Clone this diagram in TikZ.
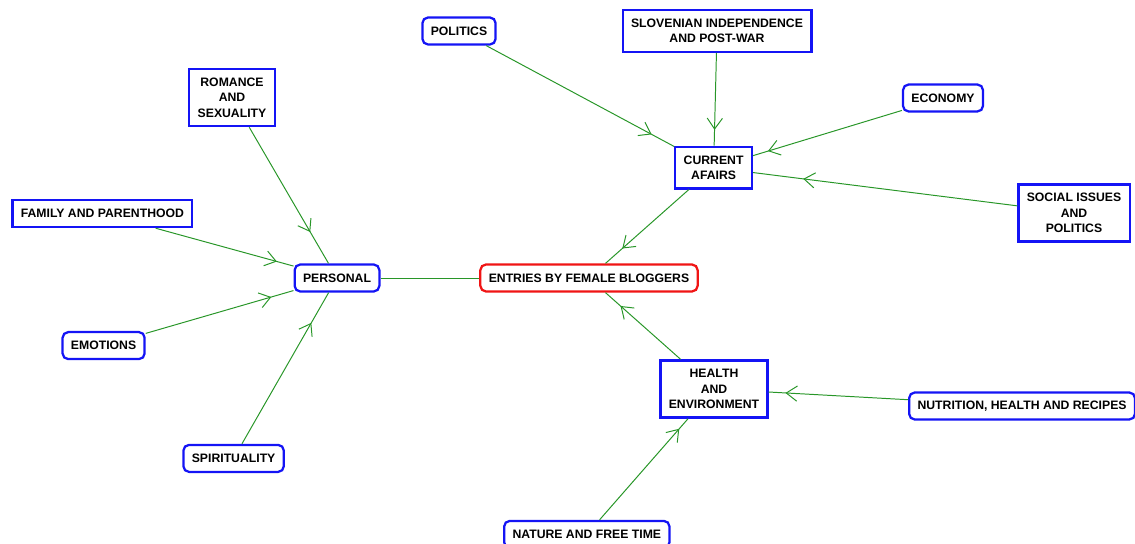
\documentclass[tikz,border=0pt]{standalone}
\usepackage{fontspec}
\setmainfont{Liberation Sans}
\usepackage{xcolor}
\usepackage{tikz}
\usetikzlibrary{arrows.meta, decorations.markings}

\definecolor{edgegreen}{RGB}{40,150,40}
\definecolor{boxblue}{RGB}{20,20,245}
\definecolor{boxred}{RGB}{240,20,20}

\begin{document}
\begin{tikzpicture}[
  font=\fontsize{8.7}{11}\selectfont\bfseries,
  topic/.style={draw=boxblue, line width=1.6pt, fill=white, align=center,
                inner xsep=0.21cm, inner ysep=0.22cm},
  leaf/.style={topic, rounded corners=4pt, minimum height=0.675cm, inner ysep=0pt},
  root/.style={leaf, draw=boxred},
  flow/.style={draw=edgegreen, line width=0.7pt, postaction={decorate},
               decoration={markings, mark=at position #1 with
                 {\arrow[edgegreen]{Straight Barb[length=2.7mm, width=3.8mm]}}}},
  flow/.default=0.82,
  link/.style={draw=edgegreen, line width=0.7pt},
]
\useasboundingbox (0,0) rectangle (28.375,13.6);

% Centre and the three branches
\node[root]  (entries)  at (14.725, 6.65) {ENTRIES BY FEMALE BLOGGERS};
\node[leaf]  (personal) at (8.425, 6.65)  {PERSONAL};
\node[topic] (current)  at (17.84, 9.41)  {CURRENT\\AFAIRS};
\node[topic] (health)   at (17.85, 3.875) {HEALTH\\AND\\ENVIRONMENT};

% Current affairs
\node[leaf]  (politics) at (11.475, 12.825) {POLITICS};
\node[topic] (slovenia) at (17.925, 12.825) {SLOVENIAN INDEPENDENCE\\AND POST-WAR};
\node[leaf]  (economy)  at (23.575, 11.15)  {ECONOMY};
\node[topic] (social)   at (26.85, 8.275)   {SOCIAL ISSUES\\AND\\POLITICS};

% Personal
\node[topic] (romance)  at (5.8, 11.16)  {ROMANCE\\AND\\SEXUALITY};
\node[topic, inner ysep=0pt, minimum height=0.675cm]
             (family)   at (2.56, 8.26)  {FAMILY AND PARENTHOOD};
\node[leaf]  (emotions) at (2.59, 4.96)  {EMOTIONS};
\node[leaf]  (spirit)   at (5.84, 2.14)  {SPIRITUALITY};

% Health and environment
\node[leaf, anchor=west] (nutrition) at (22.7, 3.45)  {NUTRITION, HEALTH AND RECIPES};
\node[leaf, anchor=west] (nature)    at (12.575, 0.24) {NATURE AND FREE TIME};

% Connectors
\draw[link] (personal) -- (entries);
\draw[flow=0.8]  (current) -- (entries);
\draw[flow=0.8]  (health)  -- (entries);

\draw[flow=0.88] (politics) -- (current);
\draw[flow=0.83] (slovenia) -- (current);
\draw[flow=0.9]  (economy)  -- (current);
\draw[flow=0.81] (social)   -- (current);

\draw[flow=0.77] (romance)  -- (personal);
\draw[flow=0.88] (family)   -- (personal);
\draw[flow=0.85] (emotions) -- (personal);
\draw[flow=0.8]  (spirit)   -- (personal);

\draw[flow=0.88] (nutrition) -- (health);
\draw[flow=0.9]  (nature)    -- (health);

\end{tikzpicture}
\end{document}
